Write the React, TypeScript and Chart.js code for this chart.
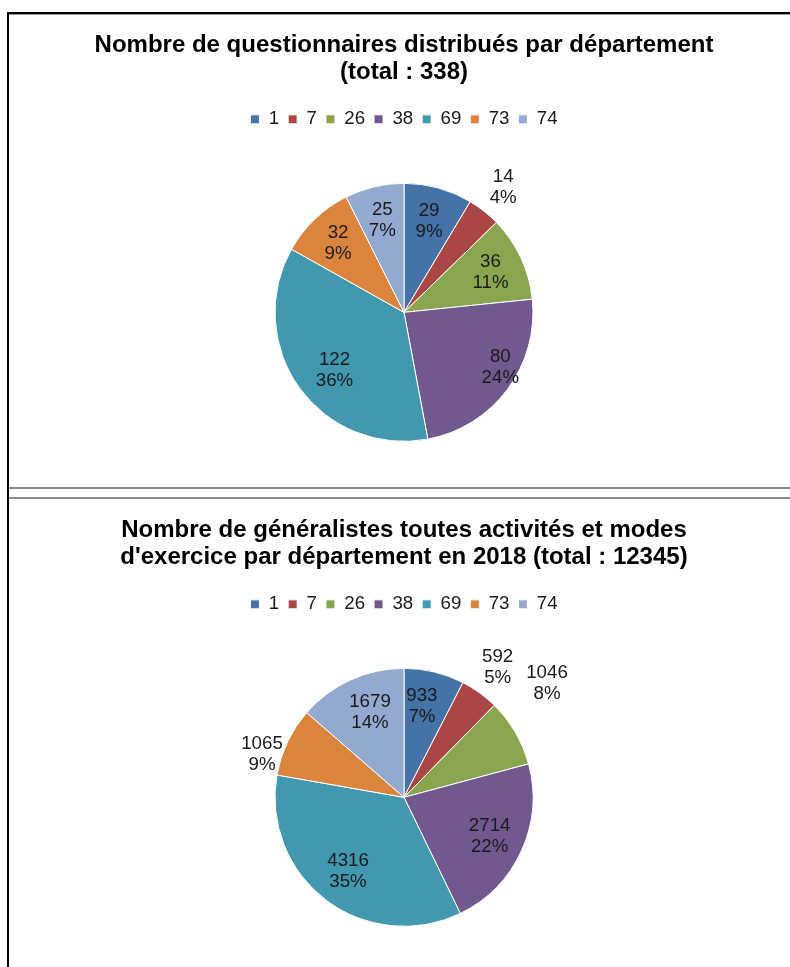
import React, { useEffect, useRef } from "react";
import { Chart, registerables } from "chart.js";

Chart.register(...registerables);

// ---- data ----
const departments = ["1", "7", "26", "38", "69", "73", "74"];
const sliceColors = ["#4572A7", "#AA4643", "#89A54E", "#71588F", "#4198AF", "#DB843D", "#93A9CF"];

const questionnaires = [29, 14, 36, 80, 122, 32, 25];
const questionnairesPct = [9, 4, 11, 24, 36, 9, 7];
const questionnairesTitle = [
  "Nombre de questionnaires distribués par département",
  "(total : 338)",
];

const generalistes = [933, 592, 1046, 2714, 4316, 1065, 1679];
const generalistesPct = [7, 5, 8, 22, 35, 9, 14];
const generalistesTitle = [
  "Nombre de généralistes toutes activités et modes",
  "d'exercice par département en 2018 (total : 12345)",
];

const FONT = "'Liberation Sans', Arial, Helvetica, sans-serif";

// label placement: [radius factor, angle offset in degrees] per slice
const placement1: [number, number][] = [
  [0.73, 0], [1.24, 0], [0.74, 0], [0.86, -7], [0.7, -4], [0.74, 0], [0.73, 0],
];
const placement2: [number, number][] = [
  [0.72, -2.5], [1.24, 0], [1.42, -8.4], [0.73, 0], [0.72, 0], [1.15, -8.7], [0.71, 2.7],
];

const pieLabels = {
  id: "pieLabels",
  afterDatasetsDraw(chart: any, _args: any, opts: any) {
    const ctx = chart.ctx;
    const meta = chart.getDatasetMeta(0);
    const ds = chart.data.datasets[0];
    ctx.save();
    ctx.font = `18.7px ${FONT}`;
    ctx.fillStyle = "#1a1a1a";
    ctx.textAlign = "center";
    ctx.textBaseline = "middle";
    const lh = 21;
    meta.data.forEach((arc: any, i: number) => {
      const p = arc.getProps(["x", "y", "startAngle", "endAngle", "outerRadius"], true);
      const pl = (opts.placement && opts.placement[i]) || [0.72, 0];
      const a = (p.startAngle + p.endAngle) / 2 + (pl[1] * Math.PI) / 180;
      const r = p.outerRadius * pl[0];
      const cx = p.x + Math.cos(a) * r;
      const cy = p.y + Math.sin(a) * r;
      ctx.fillText(String(ds.data[i]), cx, cy - lh / 2);
      ctx.fillText(`${opts.pct[i]}%`, cx, cy + lh / 2);
    });
    ctx.restore();
  },
};

function makeConfig(values: number[], pct: number[], title: string[], placement: [number, number][]): any {
  return {
    type: "pie",
    data: {
      labels: departments,
      datasets: [
        {
          data: values,
          backgroundColor: sliceColors,
          borderColor: "#ffffff",
          borderWidth: 1,
        },
      ],
    },
    options: {
      animation: false,
      responsive: false,
      radius: 129,
      layout: { padding: { top: 0, bottom: 2, left: 0, right: 0 } },
      plugins: {
        title: {
          display: true,
          text: title,
          color: "#000000",
          font: { family: FONT, size: 24, weight: "bold", lineHeight: 27 / 24 },
          padding: { top: 17, bottom: 15 },
        },
        legend: {
          display: true,
          position: "top",
          labels: {
            boxWidth: 9,
            boxHeight: 9,
            padding: 9,
            color: "#1a1a1a",
            font: { family: FONT, size: 18.7 },
          },
        },
        tooltip: { enabled: false },
        pieLabels: { pct, placement },
      },
    },
    plugins: [pieLabels],
  };
}

function PieCanvas(props: { values: number[]; pct: number[]; title: string[]; placement: [number, number][]; top: number }) {
  const ref = useRef<HTMLCanvasElement | null>(null);
  useEffect(() => {
    if (!ref.current) return;
    const chart = new Chart(ref.current, makeConfig(props.values, props.pct, props.title, props.placement));
    return () => chart.destroy();
  }, []);
  return (
    <canvas
      ref={ref}
      width={772}
      height={473}
      style={{ position: "absolute", left: 18, top: props.top, width: 772, height: 473 }}
    />
  );
}

const line = (style: React.CSSProperties) => <div style={{ position: "absolute", ...style }} />;

export default function App() {
  return (
    <div
      style={{
        position: "fixed",
        left: 0,
        top: 0,
        width: 790,
        height: 967,
        overflow: "hidden",
        background: "#ffffff",
      }}
    >
      <PieCanvas values={questionnaires} pct={questionnairesPct} title={questionnairesTitle} placement={placement1} top={15} />
      <PieCanvas values={generalistes} pct={generalistesPct} title={generalistesTitle} placement={placement2} top={500} />
      {line({ left: 7, top: 12, width: 783, height: 2, background: "#000" })}
      {line({ left: 9, top: 14, width: 781, height: 1, background: "#9a9a9a" })}
      {line({ left: 7, top: 12, width: 2, height: 955, background: "#000" })}
      {line({ left: 9, top: 487, width: 781, height: 2, background: "#8a8a8a" })}
      {line({ left: 9, top: 497, width: 781, height: 2, background: "#8a8a8a" })}
    </div>
  );
}
